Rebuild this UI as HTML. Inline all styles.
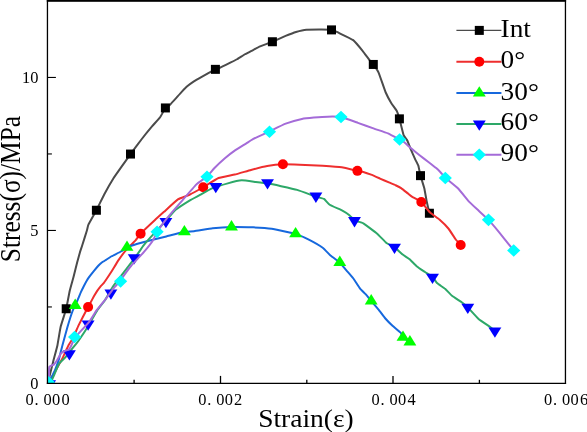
<!DOCTYPE html>
<html><head><meta charset="utf-8"><style>
html,body{margin:0;padding:0;background:#fff;}
body{width:587px;height:432px;overflow:hidden;font-family:"Liberation Serif",serif;}
svg{display:block;will-change:transform;}
</style></head><body>
<svg width="587" height="432" viewBox="0 0 587 432">
<rect width="587" height="432" fill="#fff"/>
<clipPath id="cp"><rect x="47.45" y="0" width="518" height="383.25"/></clipPath>
<g clip-path="url(#cp)"><path d="M49.00,378.25 C49.09,377.91 50.24,373.39 50.50,372.35 C50.76,371.31 53.10,361.92 53.50,360.35 C53.90,358.78 56.98,347.42 57.40,345.45 C57.82,343.48 60.19,328.69 60.70,326.55 C61.21,324.41 65.67,310.86 66.20,308.75 C66.73,306.64 69.36,292.35 69.80,290.45 C70.24,288.55 73.27,277.89 73.70,276.25 C74.13,274.61 76.84,263.74 77.20,262.35 C77.56,260.96 79.61,253.42 79.90,252.45 C80.19,251.48 81.69,247.03 82.10,245.75 C82.51,244.47 86.53,231.69 86.90,230.45 C87.27,229.21 87.95,225.63 88.50,224.45 C89.05,223.27 95.48,212.00 96.40,210.25 C97.32,208.50 103.20,196.32 104.20,194.45 C105.20,192.58 112.48,179.87 113.50,178.25 C114.52,176.63 120.61,168.06 121.60,166.65 C122.59,165.24 129.33,155.65 130.50,154.05 C131.67,152.45 140.35,140.86 141.60,139.25 C142.85,137.64 150.92,127.73 152.00,126.45 C153.08,125.17 159.32,118.33 160.10,117.25 C160.88,116.17 164.82,108.69 165.40,107.95 C165.98,107.22 169.38,105.23 170.00,104.65 C170.62,104.07 175.42,98.80 176.10,98.05 C176.78,97.30 181.05,92.53 181.70,91.85 C182.35,91.17 186.49,86.96 187.20,86.35 C187.91,85.74 193.05,81.90 193.90,81.35 C194.75,80.80 200.73,77.40 201.70,76.85 C202.67,76.30 209.80,72.29 210.60,71.85 C211.40,71.41 214.86,69.59 215.40,69.35 C215.94,69.11 219.09,68.11 219.90,67.75 C220.71,67.39 228.30,63.65 229.30,63.15 C230.30,62.65 236.19,59.77 237.10,59.25 C238.01,58.73 244.05,54.74 244.90,54.25 C245.75,53.76 250.71,51.31 251.60,50.85 C252.49,50.39 258.89,46.88 260.10,46.35 C261.31,45.82 270.91,42.36 272.40,41.75 C273.89,41.14 284.22,36.52 285.60,35.95 C286.98,35.38 294.79,32.32 296.00,31.95 C297.21,31.58 304.33,29.78 306.40,29.65 C308.47,29.52 329.58,29.45 331.50,29.65 C333.42,29.85 338.03,32.54 339.30,33.15 C340.57,33.76 351.85,39.14 353.20,40.15 C354.55,41.17 361.45,49.40 362.40,50.55 C363.34,51.70 368.76,59.04 369.40,59.85 C370.04,60.66 372.76,63.71 373.30,64.45 C373.84,65.19 377.88,70.93 378.60,72.55 C379.32,74.17 384.87,90.48 385.60,92.25 C386.34,94.02 390.55,101.86 391.20,102.95 C391.85,104.04 396.32,110.03 396.80,110.95 C397.28,111.87 399.00,117.34 399.40,118.75 C399.80,120.16 403.14,133.88 403.60,135.15 C404.06,136.42 406.89,139.63 407.30,140.45 C407.71,141.27 410.25,148.06 410.70,149.15 C411.15,150.24 414.65,158.18 415.10,159.15 C415.55,160.12 418.09,164.90 418.40,165.85 C418.71,166.80 420.06,174.14 420.40,175.45 C420.74,176.76 423.94,186.76 424.30,188.25 C424.66,189.74 426.30,199.49 426.60,200.95 C426.90,202.41 429.24,212.53 429.40,213.25" fill="none" stroke="#4b4b4b" stroke-width="2.0" stroke-linejoin="round" stroke-linecap="round"/><rect x="61.70" y="304.25" width="9.0" height="9.0" fill="#000"/><rect x="91.90" y="205.75" width="9.0" height="9.0" fill="#000"/><rect x="126.00" y="149.55" width="9.0" height="9.0" fill="#000"/><rect x="160.90" y="103.45" width="9.0" height="9.0" fill="#000"/><rect x="210.90" y="64.85" width="9.0" height="9.0" fill="#000"/><rect x="267.90" y="37.25" width="9.0" height="9.0" fill="#000"/><rect x="327.00" y="25.40" width="9.0" height="9.0" fill="#000"/><rect x="368.80" y="59.95" width="9.0" height="9.0" fill="#000"/><rect x="394.90" y="114.35" width="9.0" height="9.0" fill="#000"/><rect x="416.00" y="171.15" width="9.0" height="9.0" fill="#000"/><rect x="424.90" y="208.75" width="9.0" height="9.0" fill="#000"/><path d="M52.00,377.25 C52.29,376.73 56.26,369.51 56.90,368.35 C57.54,367.19 62.23,358.69 62.90,357.35 C63.57,356.01 67.80,346.60 68.40,345.45 C69.00,344.30 72.60,338.83 73.20,337.65 C73.80,336.47 77.83,326.94 78.70,325.15 C79.57,323.36 87.41,308.27 88.10,306.95 C88.79,305.63 90.26,303.07 90.60,302.45 C90.94,301.83 93.52,297.03 93.90,296.35 C94.29,295.67 96.81,291.43 97.20,290.85 C97.59,290.27 100.21,286.82 100.60,286.35 C100.99,285.88 103.39,283.53 103.90,282.85 C104.41,282.17 108.79,275.67 109.40,274.75 C110.01,273.83 113.77,267.90 114.30,267.05 C114.83,266.20 117.84,261.11 118.50,260.15 C119.16,259.19 124.61,251.80 125.60,250.65 C126.59,249.50 134.62,241.44 135.50,240.45 C136.38,239.46 139.48,234.83 140.60,233.65 C141.72,232.47 153.33,221.52 154.70,220.25 C156.06,218.98 162.65,213.06 164.00,211.85 C165.35,210.64 176.41,200.45 177.90,199.45 C179.39,198.45 188.02,195.46 189.50,194.75 C190.98,194.04 201.51,188.22 203.20,187.25 C204.89,186.28 216.66,178.79 218.50,178.05 C220.34,177.31 232.80,175.02 234.70,174.55 C236.60,174.08 249.10,170.45 251.00,169.95 C252.90,169.45 265.34,166.38 267.20,166.05 C269.06,165.72 281.02,164.33 282.90,164.25 C284.78,164.17 297.18,164.56 299.50,164.65 C301.82,164.74 320.24,165.69 322.70,165.85 C325.16,166.01 339.68,167.06 341.70,167.35 C343.72,167.64 356.14,170.58 357.40,170.85 C358.66,171.12 362.50,171.73 363.30,171.95 C364.10,172.17 370.13,174.26 371.10,174.65 C372.07,175.03 378.96,178.09 380.00,178.55 C381.04,179.00 387.99,182.06 388.90,182.45 C389.81,182.84 394.89,184.92 395.60,185.25 C396.31,185.58 400.38,187.57 401.10,188.05 C401.82,188.53 407.37,193.05 408.00,193.55 C408.63,194.05 411.12,196.15 411.90,196.65 C412.68,197.15 420.24,201.12 421.30,202.05 C422.36,202.98 429.04,211.53 430.10,212.55 C431.16,213.57 438.32,218.60 439.40,219.55 C440.48,220.49 447.66,227.60 448.60,228.75 C449.55,229.90 454.89,238.31 455.60,239.25 C456.31,240.19 460.40,244.62 460.70,244.95" fill="none" stroke="#ee2e2e" stroke-width="2.0" stroke-linejoin="round" stroke-linecap="round"/><circle cx="88.10" cy="306.95" r="5.0" fill="#ff0000"/><circle cx="140.60" cy="233.65" r="5.0" fill="#ff0000"/><circle cx="203.20" cy="187.25" r="5.0" fill="#ff0000"/><circle cx="282.90" cy="164.25" r="5.0" fill="#ff0000"/><circle cx="357.40" cy="170.85" r="5.0" fill="#ff0000"/><circle cx="421.30" cy="202.05" r="5.0" fill="#ff0000"/><circle cx="460.70" cy="244.95" r="5.0" fill="#ff0000"/><path d="M51.00,378.25 C51.23,377.79 54.44,371.45 54.90,370.35 C55.36,369.25 58.46,360.80 58.90,359.35 C59.34,357.90 61.89,347.36 62.40,345.45 C62.91,343.54 67.01,328.55 67.60,326.55 C68.19,324.56 71.92,312.79 72.50,311.25 C73.08,309.71 77.10,301.28 77.60,300.15 C78.10,299.02 80.63,292.78 81.00,291.95 C81.37,291.12 83.55,286.64 83.90,285.95 C84.25,285.26 86.60,280.80 87.00,280.15 C87.40,279.50 90.38,275.41 90.80,274.85 C91.22,274.29 93.76,271.08 94.20,270.55 C94.64,270.02 97.86,266.22 98.30,265.75 C98.74,265.28 101.35,262.89 101.80,262.55 C102.25,262.21 105.42,260.22 106.00,259.85 C106.58,259.48 110.80,256.75 111.70,256.25 C112.60,255.75 120.51,251.78 121.40,251.25 C122.29,250.72 125.73,247.78 127.00,247.25 C128.27,246.72 140.91,242.88 143.20,242.25 C145.49,241.62 163.90,237.06 166.30,236.45 C168.70,235.84 182.78,232.16 184.40,231.85 C186.02,231.54 192.45,231.35 194.10,231.15 C195.75,230.95 210.52,228.59 212.70,228.35 C214.88,228.10 229.14,227.01 231.50,226.95 C233.86,226.89 250.85,227.25 253.20,227.35 C255.54,227.45 269.23,228.37 271.70,228.75 C274.17,229.13 293.44,233.21 295.60,233.85 C297.76,234.49 307.22,238.84 308.80,239.65 C310.38,240.46 321.42,246.81 322.70,247.75 C323.98,248.69 329.80,254.89 330.80,255.75 C331.80,256.61 338.90,261.61 339.80,262.45 C340.70,263.29 345.42,269.23 346.20,270.15 C346.98,271.07 352.39,277.17 353.20,278.25 C354.01,279.33 359.36,287.70 360.10,288.65 C360.84,289.59 365.25,293.73 365.90,294.45 C366.55,295.17 370.46,300.07 371.20,300.95 C371.94,301.83 377.76,308.51 378.60,309.55 C379.44,310.59 384.79,317.81 385.60,318.75 C386.41,319.69 391.62,324.94 392.50,325.75 C393.38,326.56 400.09,331.97 400.70,332.65 C401.31,333.33 402.46,336.81 403.00,337.35 C403.54,337.89 409.50,341.68 409.90,341.95" fill="none" stroke="#1668dd" stroke-width="2.0" stroke-linejoin="round" stroke-linecap="round"/><polygon points="75.20,298.58 81.65,308.88 68.75,308.88" fill="#00ff00"/><polygon points="127.00,240.38 133.45,250.68 120.55,250.68" fill="#00ff00"/><polygon points="184.40,224.98 190.85,235.28 177.95,235.28" fill="#00ff00"/><polygon points="231.50,220.08 237.95,230.38 225.05,230.38" fill="#00ff00"/><polygon points="295.60,226.98 302.05,237.28 289.15,237.28" fill="#00ff00"/><polygon points="339.80,255.58 346.25,265.88 333.35,265.88" fill="#00ff00"/><polygon points="371.20,294.08 377.65,304.38 364.75,304.38" fill="#00ff00"/><polygon points="403.00,330.48 409.45,340.78 396.55,340.78" fill="#00ff00"/><polygon points="409.90,335.08 416.35,345.38 403.45,345.38" fill="#00ff00"/><path d="M52.00,379.75 C52.12,379.49 53.60,376.28 54.00,375.35 C54.40,374.42 58.23,364.90 58.90,363.85 C59.56,362.80 64.47,358.42 65.40,357.35 C66.33,356.28 74.02,346.44 74.80,345.45 C75.58,344.46 77.99,341.47 78.70,340.45 C79.41,339.43 85.92,329.70 87.00,327.95 C88.08,326.20 96.16,312.05 97.20,310.45 C98.24,308.85 103.91,301.80 104.80,300.45 C105.69,299.10 111.85,288.30 112.50,287.25 C113.15,286.20 115.23,283.46 116.00,282.45 C116.77,281.44 124.73,271.11 125.70,269.85 C126.67,268.59 131.79,261.94 132.60,260.85 C133.41,259.76 138.98,252.02 139.60,251.15 C140.22,250.28 142.59,246.72 143.20,245.95 C143.81,245.18 148.65,239.45 150.00,237.95 C151.35,236.45 164.81,221.89 166.30,220.25 C167.79,218.61 174.25,211.00 175.60,209.85 C176.95,208.70 188.08,201.42 189.50,200.55 C190.92,199.68 198.69,195.66 200.00,194.95 C201.31,194.24 210.38,189.13 212.00,188.45 C213.62,187.77 226.07,183.82 227.80,183.35 C229.53,182.88 240.08,180.43 241.70,180.35 C243.32,180.27 254.11,181.77 255.60,181.95 C257.09,182.12 265.71,183.10 267.20,183.35 C268.69,183.59 279.35,185.77 281.10,186.15 C282.85,186.53 295.15,189.23 297.20,189.85 C299.25,190.47 314.64,196.22 316.20,196.75 C317.76,197.28 323.21,198.48 324.00,198.95 C324.79,199.42 328.63,204.07 329.70,204.75 C330.77,205.43 341.25,209.94 342.40,210.55 C343.55,211.16 348.69,214.57 349.40,215.15 C350.11,215.73 353.69,220.07 354.50,220.55 C355.31,221.03 361.98,222.58 363.30,223.35 C364.62,224.12 375.85,232.61 377.20,233.75 C378.55,234.89 385.39,242.17 386.40,242.95 C387.41,243.73 393.55,246.47 394.50,247.15 C395.45,247.83 401.82,253.84 402.70,254.55 C403.58,255.26 408.79,258.57 409.60,259.25 C410.41,259.93 415.70,265.40 416.60,266.15 C417.50,266.90 424.06,271.40 425.00,272.05 C425.94,272.70 432.10,276.61 432.80,277.25 C433.50,277.89 436.28,282.37 437.00,283.05 C437.72,283.73 444.23,288.11 445.10,288.85 C445.98,289.59 450.99,294.94 452.00,295.75 C453.01,296.56 461.48,302.07 462.40,302.75 C463.32,303.43 466.86,306.40 467.80,307.35 C468.75,308.29 477.29,317.80 478.60,318.95 C479.91,320.10 489.25,326.34 490.20,327.05 C491.15,327.76 494.63,330.91 494.90,331.15" fill="none" stroke="#2da868" stroke-width="2.0" stroke-linejoin="round" stroke-linecap="round"/><polygon points="62.95,350.32 75.85,350.32 69.40,360.62" fill="#0000ff"/><polygon points="81.65,320.52 94.55,320.52 88.10,330.82" fill="#0000ff"/><polygon points="104.45,289.42 117.35,289.42 110.90,299.72" fill="#0000ff"/><polygon points="127.75,254.22 140.65,254.22 134.20,264.52" fill="#0000ff"/><polygon points="159.45,218.02 172.35,218.02 165.90,228.32" fill="#0000ff"/><polygon points="209.35,183.02 222.25,183.02 215.80,193.32" fill="#0000ff"/><polygon points="261.05,179.22 273.95,179.22 267.50,189.52" fill="#0000ff"/><polygon points="309.45,192.62 322.35,192.62 315.90,202.92" fill="#0000ff"/><polygon points="348.05,217.12 360.95,217.12 354.50,227.42" fill="#0000ff"/><polygon points="388.05,243.72 400.95,243.72 394.50,254.02" fill="#0000ff"/><polygon points="426.05,273.82 438.95,273.82 432.50,284.12" fill="#0000ff"/><polygon points="461.35,303.72 474.25,303.72 467.80,314.02" fill="#0000ff"/><polygon points="488.45,327.52 501.35,327.52 494.90,337.82" fill="#0000ff"/><polygon points="43.15,380.17 56.05,380.17 49.60,390.47" fill="#0000ff"/><path d="M49.00,378.25 C49.00,378.08 48.98,376.01 49.00,375.35 C49.02,374.68 49.01,367.49 49.30,366.85 C49.59,366.21 53.52,364.88 54.00,364.45 C54.48,364.02 57.09,360.09 57.50,359.45 C57.91,358.81 60.62,353.93 61.00,353.45 C61.38,352.97 63.54,351.48 64.00,351.25 C64.46,351.02 68.47,349.79 68.90,349.45 C69.33,349.11 70.97,346.09 71.30,345.45 C71.63,344.81 74.17,339.15 74.60,338.45 C75.03,337.75 77.81,334.46 78.70,333.45 C79.59,332.44 88.76,322.39 89.80,321.05 C90.84,319.71 95.54,311.77 96.50,310.45 C97.46,309.13 105.19,299.66 106.20,298.35 C107.22,297.04 113.06,288.98 113.90,287.95 C114.74,286.92 120.07,281.30 120.60,280.65 C121.12,280.00 122.28,277.72 122.90,276.85 C123.52,275.98 129.97,267.21 131.20,265.75 C132.43,264.29 142.73,253.33 144.00,251.85 C145.27,250.37 152.14,241.62 152.90,240.45 C153.66,239.28 156.32,233.10 157.10,231.85 C157.88,230.60 164.95,220.74 166.30,219.05 C167.65,217.36 178.44,204.87 180.20,202.85 C181.96,200.83 194.84,185.88 196.40,184.35 C197.96,182.82 205.94,177.50 207.00,176.55 C208.06,175.60 213.46,169.12 214.50,168.05 C215.54,166.98 223.68,159.29 224.90,158.25 C226.12,157.21 234.17,151.00 235.40,150.15 C236.63,149.30 244.96,144.30 246.00,143.65 C247.04,143.00 251.96,139.66 253.30,138.95 C254.64,138.24 267.11,132.44 269.00,131.55 C270.89,130.66 283.78,124.39 285.70,123.65 C287.62,122.92 300.25,119.31 301.90,118.95 C303.54,118.59 312.39,117.68 313.90,117.55 C315.41,117.42 326.22,116.68 327.80,116.65 C329.38,116.62 339.24,116.69 341.00,117.05 C342.76,117.41 355.97,122.17 357.90,122.85 C359.83,123.53 372.34,128.04 374.10,128.65 C375.86,129.26 386.51,132.71 388.00,133.35 C389.49,133.99 398.67,139.05 399.60,139.55 C400.53,140.05 403.35,141.45 404.00,141.95 C404.65,142.45 409.79,147.27 410.70,148.05 C411.61,148.83 418.57,154.44 419.60,155.25 C420.63,156.06 427.43,161.20 428.40,161.95 C429.37,162.70 435.48,167.44 436.20,168.05 C436.92,168.66 440.16,171.88 440.70,172.45 C441.24,173.02 444.50,176.93 445.50,177.85 C446.50,178.77 456.50,186.83 457.90,188.25 C459.30,189.67 468.30,200.85 469.50,202.15 C470.70,203.45 477.39,209.52 478.50,210.55 C479.61,211.58 487.28,218.57 488.50,219.85 C489.72,221.13 498.23,231.13 499.40,232.55 C500.57,233.97 507.77,243.11 508.60,244.15 C509.43,245.19 513.40,250.08 513.70,250.45" fill="none" stroke="#a46bd8" stroke-width="2.0" stroke-linejoin="round" stroke-linecap="round"/><polygon points="74.60,330.65 81.20,336.95 74.60,343.25 68.00,336.95" fill="#00ffff"/><polygon points="120.60,275.05 127.20,281.35 120.60,287.65 114.00,281.35" fill="#00ffff"/><polygon points="157.10,225.55 163.70,231.85 157.10,238.15 150.50,231.85" fill="#00ffff"/><polygon points="207.00,170.45 213.60,176.75 207.00,183.05 200.40,176.75" fill="#00ffff"/><polygon points="269.50,125.45 276.10,131.75 269.50,138.05 262.90,131.75" fill="#00ffff"/><polygon points="341.00,110.75 347.60,117.05 341.00,123.35 334.40,117.05" fill="#00ffff"/><polygon points="399.60,133.15 406.20,139.45 399.60,145.75 393.00,139.45" fill="#00ffff"/><polygon points="445.30,171.75 451.90,178.05 445.30,184.35 438.70,178.05" fill="#00ffff"/><polygon points="488.50,213.55 495.10,219.85 488.50,226.15 481.90,219.85" fill="#00ffff"/><polygon points="513.70,244.15 520.30,250.45 513.70,256.75 507.10,250.45" fill="#00ffff"/><polygon points="48.40,375.90 55.00,382.20 48.40,388.50 41.80,382.20" fill="#00ffff"/></g>
<line x1="47.45" y1="0" x2="47.45" y2="383.85" stroke="#000" stroke-width="1.3"/>
<line x1="565.45" y1="0" x2="565.45" y2="383.85" stroke="#000" stroke-width="1.3"/>
<line x1="46.800000000000004" y1="383.4" x2="566.1" y2="383.4" stroke="#000" stroke-width="1.3"/>
<rect x="46.800000000000004" y="0" width="519.3" height="1.8" fill="#000"/>
<line x1="47.45" y1="77.45" x2="55.9" y2="77.45" stroke="#000" stroke-width="1.1"/>
<line x1="47.45" y1="230.45" x2="55.9" y2="230.45" stroke="#000" stroke-width="1.1"/>
<line x1="47.45" y1="153.95" x2="51.9" y2="153.95" stroke="#000" stroke-width="1.1"/>
<line x1="47.45" y1="306.95" x2="51.9" y2="306.95" stroke="#000" stroke-width="1.1"/>
<line x1="220.5" y1="375.9" x2="220.5" y2="383.25" stroke="#000" stroke-width="1.3"/>
<line x1="393.0" y1="375.9" x2="393.0" y2="383.25" stroke="#000" stroke-width="1.3"/>
<line x1="134.1" y1="379.8" x2="134.1" y2="383.25" stroke="#000" stroke-width="1.3"/>
<line x1="306.8" y1="379.8" x2="306.8" y2="383.25" stroke="#000" stroke-width="1.3"/>
<line x1="479.4" y1="379.8" x2="479.4" y2="383.25" stroke="#000" stroke-width="1.3"/>
<g font-family="Liberation Serif" font-size="16.4" fill="#000" text-anchor="end">
<text x="38.4" y="83.2">10</text><text x="38.4" y="235.8">5</text><text x="38.4" y="388.6">0</text>
</g>
<g font-family="Liberation Serif" font-size="16.4" fill="#000">
<text x="25.6 34.5 43.5 52.0 61.4" y="405.2">0.000</text>
<text x="198.3 207.3 216.2 224.7 234.1" y="405.2">0.002</text>
<text x="371.6 380.6 389.5 398.0 407.4" y="405.2">0.004</text>
<text x="544.1 553.1 562.0 570.5 579.9" y="405.2">0.006</text>
</g>
<text transform="translate(258.2,426.8) scale(1.1,1)" x="0" y="0" font-family="Liberation Serif" font-size="25" fill="#000">Strain(ε)</text>
<text transform="translate(20.2,262.2) scale(1.12,1) rotate(-90)" x="0" y="0" font-family="Liberation Serif" font-size="25.4" fill="#000">Stress(σ)/MPa</text>
<line x1="456.4" y1="30.4" x2="501.4" y2="30.4" stroke="#4b4b4b" stroke-width="1.1"/>
<rect x="474.80" y="25.90" width="9.0" height="9.0" fill="#000"/>
<text transform="translate(500.6,36.9) scale(1.115,1)" x="0" y="0" font-family="Liberation Serif" font-size="24.5" fill="#000">Int</text>
<line x1="456.4" y1="61.8" x2="501.4" y2="61.8" stroke="#ee2e2e" stroke-width="2.0"/>
<circle cx="479.30" cy="61.80" r="5.0" fill="#ff0000"/>
<text transform="translate(500.6,68.3) scale(1.115,1)" x="0" y="0" font-family="Liberation Serif" font-size="24.5" fill="#000">0°</text>
<line x1="456.4" y1="93.1" x2="501.4" y2="93.1" stroke="#1668dd" stroke-width="2.0"/>
<polygon points="479.30,86.23 485.75,96.53 472.85,96.53" fill="#00ff00"/>
<text transform="translate(500.6,99.6) scale(1.115,1)" x="0" y="0" font-family="Liberation Serif" font-size="24.5" fill="#000">30°</text>
<line x1="456.4" y1="123.9" x2="501.4" y2="123.9" stroke="#2da868" stroke-width="2.0"/>
<polygon points="472.85,120.47 485.75,120.47 479.30,130.77" fill="#0000ff"/>
<text transform="translate(500.6,130.4) scale(1.115,1)" x="0" y="0" font-family="Liberation Serif" font-size="24.5" fill="#000">60°</text>
<line x1="456.4" y1="154.7" x2="501.4" y2="154.7" stroke="#a46bd8" stroke-width="2.0"/>
<polygon points="479.30,148.40 485.90,154.70 479.30,161.00 472.70,154.70" fill="#00ffff"/>
<text transform="translate(500.6,161.2) scale(1.115,1)" x="0" y="0" font-family="Liberation Serif" font-size="24.5" fill="#000">90°</text>
</svg>
</body></html>
